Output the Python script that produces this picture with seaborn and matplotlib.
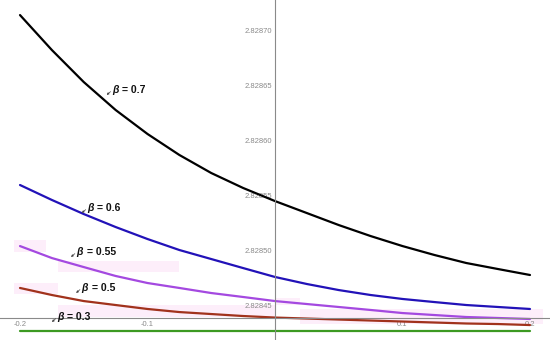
import numpy as np
import pandas as pd
import matplotlib
matplotlib.use('Agg')
import matplotlib.pyplot as plt
import matplotlib.ticker as mticker
import seaborn as sns

# --- data ---
x = [-0.2, -0.175, -0.15, -0.125, -0.1, -0.075, -0.05, -0.025, 0.0,
     0.025, 0.05, 0.075, 0.1, 0.125, 0.15, 0.175, 0.2]
b07 = [2.8287136, 2.8286818, 2.8286527, 2.8286273, 2.8286055, 2.8285864, 2.8285700, 2.8285564, 2.8285445,
       2.8285336, 2.8285227, 2.8285127, 2.8285036, 2.8284955, 2.8284882, 2.8284827, 2.8284773]
b06 = [2.8285591, 2.8285455, 2.8285327, 2.8285209, 2.8285100, 2.8285000, 2.8284918, 2.8284836, 2.8284755,
       2.8284691, 2.8284636, 2.8284591, 2.8284555, 2.8284527, 2.8284500, 2.8284482, 2.8284464]
b055 = [2.8285036, 2.8284927, 2.8284845, 2.8284764, 2.8284700, 2.8284655, 2.8284609, 2.8284573, 2.8284536,
        2.8284509, 2.8284482, 2.8284455, 2.8284427, 2.8284409, 2.8284391, 2.8284382, 2.8284373]
b05 = [2.8284655, 2.8284591, 2.8284536, 2.8284500, 2.8284464, 2.8284436, 2.8284418, 2.8284400, 2.8284386,
       2.8284377, 2.8284368, 2.8284359, 2.8284350, 2.8284341, 2.8284332, 2.8284327, 2.8284318]
b03 = [2.8284268] * 17
betas = ['0.7', '0.6', '0.55', '0.5', '0.3']
colors = ['#000000', '#2212b8', '#a449e0', '#a1321c', '#3c9a22']

# label anchors (data units)
lab_x = [-0.128, -0.1475, -0.156, -0.152, -0.171]
lab_y = [2.8286455, 2.8285382, 2.8284982, 2.8284655, 2.8284391]

df = pd.concat([pd.DataFrame({'x': x, 'y': v, 'beta': b})
                for v, b in zip([b07, b06, b055, b05, b03], betas)])

sns.set_style('white')
plt.rcParams['font.family'] = ['Liberation Sans', 'DejaVu Sans']

fig = plt.figure(figsize=(5.5, 3.4), dpi=100)
ax = fig.add_axes([0, 0, 1, 1])

# faint pink patches (rendering artifacts in the original)
pink = '#fdeefa'
for (x0, x1, y0, y1) in [(-0.205, -0.18, 2.8284980, 2.8285090),
                         (-0.17, -0.075, 2.8284800, 2.8284900),
                         (-0.205, -0.17, 2.8284600, 2.8284700),
                         (-0.17, 0.0, 2.8284390, 2.8284500),
                         (0.0, 0.02, 2.8284500, 2.8284560),
                         (0.02, 0.21, 2.8284330, 2.8284460)]:
    ax.fill_between([x0, x1], y0, y1, color=pink, lw=0, zorder=0)

sns.lineplot(data=df, x='x', y='y', hue='beta', palette=colors, lw=1.6,
             legend=False, ax=ax, estimator=None)

ax.set_xlim(-0.2157, 0.2157)
ax.set_ylim(2.8284182, 2.8287273)
ax.set_xlabel('')
ax.set_ylabel('')

for s in ['top', 'right']:
    ax.spines[s].set_visible(False)
ax.spines['left'].set_position(('data', 0))
ax.spines['bottom'].set_position(('data', 2.8284382))
for s in ['left', 'bottom']:
    ax.spines[s].set_color('#8a8a8a')
    ax.spines[s].set_linewidth(0.8)

ax.set_xticks([-0.2, -0.1, 0.1, 0.2])
ax.xaxis.set_minor_locator(mticker.MultipleLocator(0.02))
ax.set_yticks(np.arange(2.82845, 2.828701, 0.00005))
ax.yaxis.set_major_formatter(mticker.FormatStrFormatter('%.5f'))
ax.yaxis.set_minor_locator(mticker.MultipleLocator(0.00001))
ax.xaxis.set_major_formatter(mticker.FuncFormatter(lambda v, _: f'{v:g}'))
ax.tick_params(which='both', direction='in', colors='#8a8a8a', labelsize=5.5,
               labelcolor='#8a8a8a')
ax.tick_params(which='major', length=4, width=0.6, pad=2)
ax.tick_params(which='minor', length=2, width=0.5)
ax.grid(False)

for b, lx, ly in zip(betas, lab_x, lab_y):
    ax.annotate('β', (lx, ly), fontsize=7.5, fontweight='bold', fontstyle='italic',
                va='center', ha='left', color='#111111')
    ax.annotate(f'= {b}', (lx, ly), xytext=(7.5, 0), textcoords='offset points',
                fontsize=7.5, fontweight='bold', va='center', ha='left', color='#111111')
    ax.annotate('', xy=(lx - 0.004, ly - 0.0000045), xytext=(lx - 0.001, ly - 0.0000015),
                arrowprops=dict(arrowstyle='-|>', lw=0.5, color='#444444',
                                mutation_scale=3, shrinkA=0, shrinkB=0))

fig.savefig('out.png', dpi=100)
